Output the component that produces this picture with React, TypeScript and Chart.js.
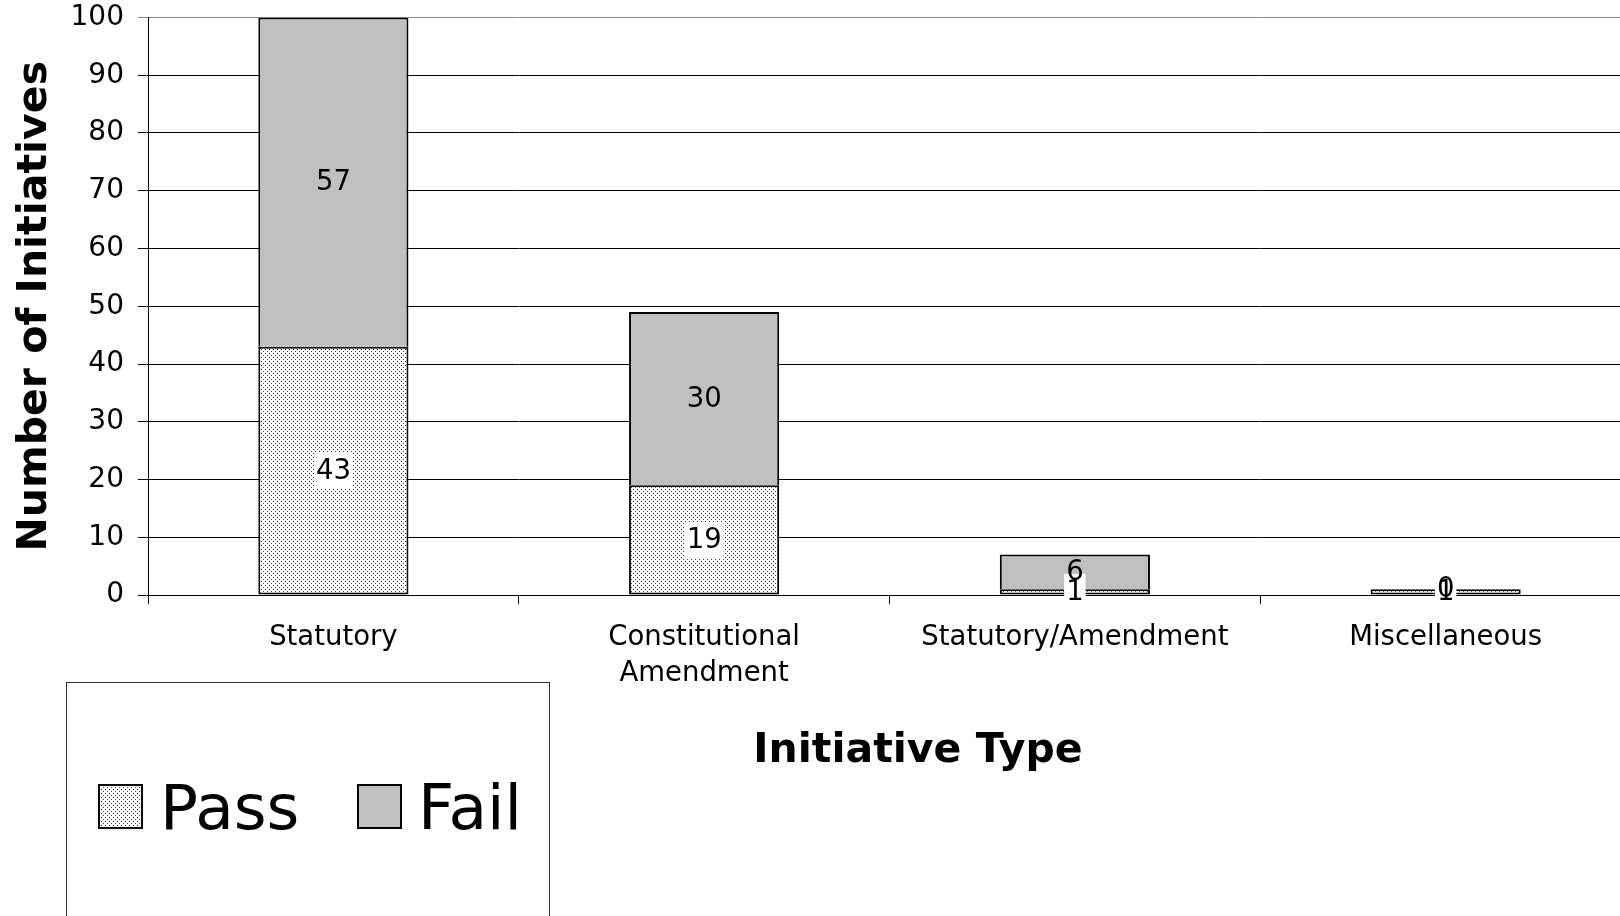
import React, { useEffect, useRef } from 'react';
import { Chart, registerables } from 'chart.js';

Chart.register(...registerables);

const categories: (string | string[])[] = [
  'Statutory',
  ['Constitutional', 'Amendment'],
  'Statutory/Amendment',
  'Miscellaneous',
];
const seriesNames = ['Pass', 'Fail'];
const passValues = [43, 19, 1, 1];
const failValues = [57, 30, 6, 0];
const yMin = 0;
const yMax = 100;
const yStep = 10;
const xTitle = 'Initiative Type';
const yTitle = 'Number of Initiatives';

const FONT = '"DejaVu Sans", Verdana, sans-serif';
const FAIL_COLOR = '#c0c0c0';

function makeDotPattern(): CanvasPattern | string {
  const c = document.createElement('canvas');
  c.width = 4;
  c.height = 4;
  const g = c.getContext('2d');
  if (!g) return '#eeeeee';
  g.fillStyle = '#ffffff';
  g.fillRect(0, 0, 4, 4);
  g.fillStyle = '#222222';
  g.fillRect(1, 1, 1, 1);
  g.fillStyle = '#444444';
  g.fillRect(3, 3, 1, 1);
  const p = g.createPattern(c, 'repeat');
  return p || '#eeeeee';
}

const dataLabelPlugin = {
  id: 'segmentLabels',
  afterDatasetsDraw(chart: any) {
    const ctx = chart.ctx as CanvasRenderingContext2D;
    ctx.save();
    ctx.font = `27.5px ${FONT}`;
    ctx.textAlign = 'center';
    ctx.textBaseline = 'middle';
    const order = [0, 1];
    for (const di of order) {
      const meta = chart.getDatasetMeta(di);
      meta.data.forEach((el: any, i: number) => {
        const v = chart.data.datasets[di].data[i];
        const { x, y, base } = el.getProps(['x', 'y', 'base'], true);
        const cy = (y + base) / 2;
        const txt = String(v);
        if (di === 0) {
          const w = ctx.measureText(txt).width;
          ctx.fillStyle = '#ffffff';
          ctx.fillRect(x - w / 2 - 2, cy - 18, w + 4, 36);
        }
        ctx.fillStyle = '#000000';
        ctx.fillText(txt, x, cy + 1);
      });
    }
    ctx.restore();
  },
};

const extrasPlugin = {
  id: 'extras',
  afterDraw(chart: any) {
    const ctx = chart.ctx as CanvasRenderingContext2D;
    ctx.save();
    // x-axis title
    ctx.font = `bold 41px ${FONT}`;
    ctx.fillStyle = '#000';
    ctx.textAlign = 'center';
    ctx.textBaseline = 'middle';
    ctx.fillText(xTitle, 918, 751);

    // legend box
    ctx.strokeStyle = '#333';
    ctx.lineWidth = 1;
    ctx.strokeRect(66.5, 682.5, 483, 400);

    const ds = chart.data.datasets;
    const items = [
      { sx: 99, tx: 160 },
      { sx: 358, tx: 418 },
    ];
    ctx.font = `63px ${FONT}`;
    ctx.textAlign = 'left';
    ctx.textBaseline = 'alphabetic';
    items.forEach((it, i) => {
      ctx.fillStyle = ds[i].backgroundColor;
      ctx.fillRect(it.sx, 785, 43, 43);
      ctx.strokeStyle = '#000';
      ctx.lineWidth = 2;
      ctx.strokeRect(it.sx, 785, 43, 43);
      ctx.fillStyle = '#000';
      ctx.fillText(ds[i].label, it.tx, 829);
    });
    ctx.restore();
  },
};

export default function App() {
  const ref = useRef<HTMLCanvasElement | null>(null);

  useEffect(() => {
    if (!ref.current) return;
    const pattern = makeDotPattern();
    const chart = new Chart(ref.current, {
      type: 'bar',
      data: {
        labels: categories as any,
        datasets: [
          {
            label: seriesNames[0],
            data: passValues,
            backgroundColor: pattern as any,
            borderColor: '#000',
            borderWidth: 2,
            borderSkipped: false,
            barPercentage: 0.81,
            categoryPercentage: 0.5,
          },
          {
            label: seriesNames[1],
            data: failValues,
            backgroundColor: FAIL_COLOR,
            borderColor: '#000',
            borderWidth: 2,
            borderSkipped: 'start',
            barPercentage: 0.81,
            categoryPercentage: 0.5,
          },
        ],
      },
      options: {
        responsive: false,
        animation: false,
        devicePixelRatio: 1,
        layout: { padding: { left: 0, top: 0, right: 69, bottom: 0 } },
        plugins: {
          legend: { display: false },
          tooltip: { enabled: false },
        },
        scales: {
          x: {
            stacked: true,
            offset: true,
            grid: {
              offset: true,
              drawOnChartArea: false,
              drawTicks: true,
              tickLength: 9,
              color: '#000',
            },
            border: { display: true, color: '#000', width: 1 },
            ticks: {
              color: '#000',
              font: { family: FONT, size: 27.5, lineHeight: 1.3 },
              padding: 16,
              maxRotation: 0,
              autoSkip: false,
            },
            afterFit: (scale: any) => {
              scale.height = 321;
            },
          },
          y: {
            stacked: true,
            min: yMin,
            max: yMax,
            ticks: {
              stepSize: yStep,
              color: '#000',
              font: { family: FONT, size: 28, lineHeight: 1.25 },
              padding: 14,
            },
            grid: {
              color: (c: any) => (c.tick && c.tick.value === yMax ? '#8a8a8a' : '#000'),
              lineWidth: 1,
              tickLength: 10,
            },
            border: { display: true, color: '#000', width: 1 },
            title: {
              display: true,
              text: yTitle,
              color: '#000',
              font: { family: FONT, size: 41, weight: 'bold' },
              padding: { top: 11, bottom: 0 },
            },
            afterFit: (scale: any) => {
              scale.width = 148;
              scale.paddingTop = 17.5;
              scale.paddingBottom = 0;
            },
          },
        },
      },
      plugins: [dataLabelPlugin, extrasPlugin],
    });
    return () => chart.destroy();
  }, []);

  return (
    <div
      style={{
        position: 'fixed',
        left: 0,
        top: 0,
        width: 1620,
        height: 916,
        overflow: 'hidden',
        background: '#fff',
      }}
    >
      <canvas ref={ref} width={1700} height={916} style={{ display: 'block', width: 1700, height: 916 }} />
    </div>
  );
}
